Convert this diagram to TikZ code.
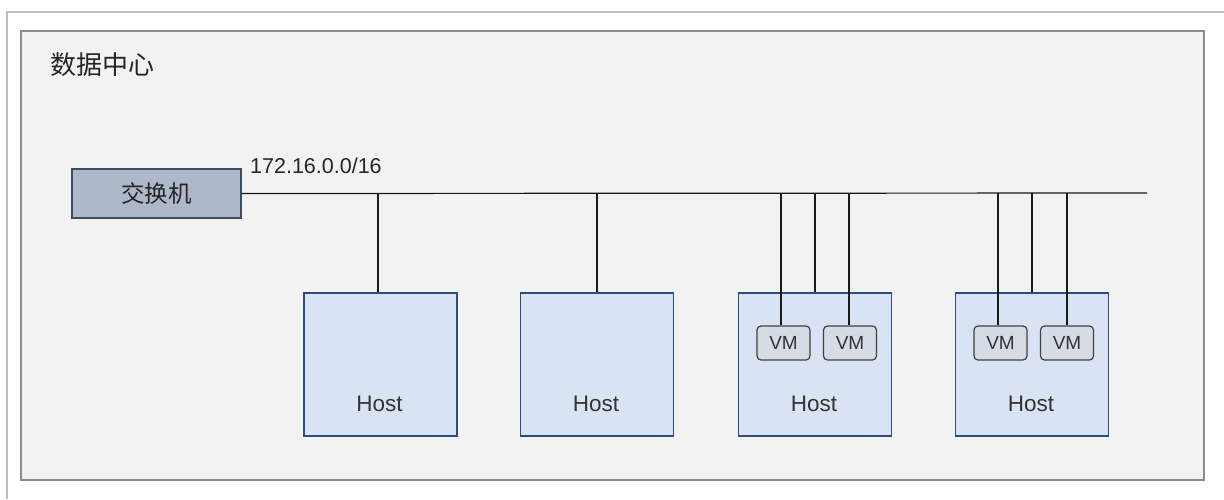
\documentclass[tikz,border=0pt]{standalone}
\usepackage{fontspec}
\setmainfont{Liberation Sans}
\newfontfamily\cjkfont{Noto Sans CJK SC}
\begin{document}
\begin{tikzpicture}[x=1pt,y=-1pt,
  frameline/.style={draw=black!25, line width=1.2pt},
  dcbox/.style={draw=black!45, fill=black!5, line width=1.5pt},
  switchbox/.style={draw={rgb,255:red,62;green,76;blue,98}, fill={rgb,255:red,173;green,185;blue,202}, line width=1.2pt, minimum width=169pt, minimum height=49pt, inner sep=0pt, font=\cjkfont\fontsize{23.5}{27}\selectfont, text=black!85},
  hostbox/.style={draw={rgb,255:red,47;green,75;blue,124}, fill={rgb,255:red,218;green,227;blue,243}, line width=1.2pt, minimum width=153pt, minimum height=143pt, inner sep=0pt},
  vmbox/.style={draw=black!75, fill={rgb,255:red,214;green,220;blue,229}, line width=1.2pt, rounded corners=4pt, minimum width=53pt, minimum height=34pt, inner sep=0pt, font=\fontsize{19}{22}\selectfont, text=black!80},
  hosttext/.style={font=\fontsize{22.5}{26}\selectfont, text=black!80},
  wire/.style={draw=black!90, line width=1.2pt}]
\useasboundingbox (0,0) rectangle (1224,499);
\fill[white] (0,0) rectangle (1224,499);
\draw[frameline] (7,499) -- (7,12) -- (1224,12);
\draw[dcbox] (21,31) rectangle (1204,480);
\node[anchor=west, inner sep=0pt, font=\cjkfont\fontsize{26}{30}\selectfont, text=black!85] (title) at (50,65) {数据中心};
\node[switchbox] (sw) at (156.5,193.5) {交换机};
\node[anchor=west, inner sep=0pt, font=\fontsize{21.5}{25}\selectfont, text=black!85] (net) at (250,166) {172.16.0.0/16};
\coordinate (busend) at (1147,193);
\draw[wire] (sw.east) -- (busend);
% hosts
\node[hostbox] (h1) at (380.5,364.5) {};
\node[hostbox] (h2) at (597,364.5) {};
\node[hostbox] (h3) at (815,364.5) {};
\node[hostbox] (h4) at (1032,364.5) {};
\foreach \h in {h1,h2,h3,h4}{
  \node[hosttext] (\h t) at ([xshift=-1pt]\h.center |- 0,404) {Host};
}
% VMs
\node[vmbox] (v31) at (783.5,343) {VM};
\node[vmbox] (v32) at (850,343) {VM};
\node[vmbox] (v41) at (1000.5,343) {VM};
\node[vmbox] (v42) at (1067,343) {VM};
% bus taps
\coordinate (t1) at (378,193);
\coordinate (t2) at (597,193);
\coordinate (t31) at (781,193);
\coordinate (t32) at (815,193);
\coordinate (t33) at (849,193);
\coordinate (t41) at (998,193);
\coordinate (t42) at (1032,193);
\coordinate (t43) at (1067,193);
\draw[wire] (t1) -- (t1 |- h1.north);
\draw[wire] (t2) -- (t2 |- h2.north);
\draw[wire] (t31) -- (t31 |- v31.north);
\draw[wire] (t32) -- (t32 |- h3.north);
\draw[wire] (t33) -- (t33 |- v32.north);
\draw[wire] (t41) -- (t41 |- v41.north);
\draw[wire] (t42) -- (t42 |- h4.north);
\draw[wire] (t43) -- (t43 |- v42.north);
\end{tikzpicture}
\end{document}
